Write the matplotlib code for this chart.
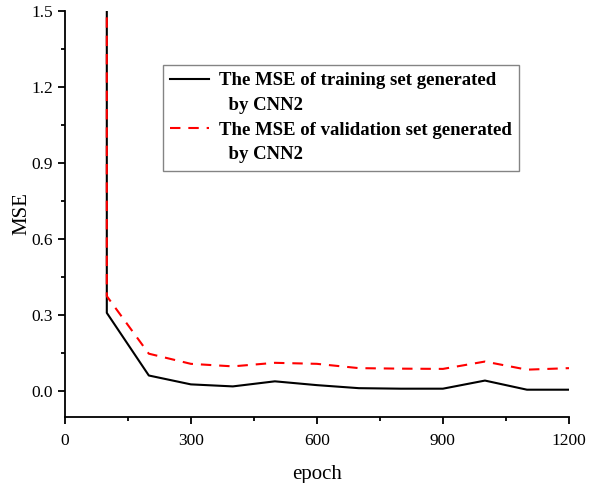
import numpy as np
from matplotlib import pyplot as plt
from matplotlib.lines import Line2D

plt.rcParams['font.family'] = ['Liberation Serif', 'DejaVu Serif']

# MSE per epoch (first point is off the top of the axis)
epoch = [100, 100, 200, 300, 400, 500, 600, 700, 800, 900, 1000, 1100, 1200]
mse_train = [2.5, 0.31, 0.063, 0.028, 0.020, 0.040, 0.025, 0.013, 0.011, 0.011, 0.043, 0.007, 0.007]
mse_valid = [2.5, 0.376, 0.149, 0.109, 0.099, 0.113, 0.109, 0.092, 0.090, 0.089, 0.118, 0.086, 0.092]

x_ticks = [0, 300, 600, 900, 1200]
y_ticks = [0.0, 0.3, 0.6, 0.9, 1.2, 1.5]

legend_lines = ['The MSE of training set generated', '  by CNN2',
                'The MSE of validation set generated', '  by CNN2']

fig = plt.figure(figsize=(5.89, 4.83), dpi=100)
ax = fig.add_axes([0.110, 0.137, 0.856, 0.840])

dash = (5, 3.8)
ax.plot(epoch, mse_train, color='black', lw=1.5)
ax.plot(epoch, mse_valid, color='red', lw=1.5, dashes=dash)

ax.set_xlim(0, 1200)
ax.set_ylim(-0.1, 1.5)
ax.set_xticks(x_ticks)
ax.set_xticks(np.arange(150, 1200, 300), minor=True)
ax.set_yticks(y_ticks)
ax.set_yticks(np.arange(0.15, 1.5, 0.3), minor=True)
ax.set_yticklabels(['%.1f' % v for v in y_ticks])

ax.spines['top'].set_visible(False)
ax.spines['right'].set_visible(False)
for s in ['left', 'bottom']:
    ax.spines[s].set_linewidth(1.3)
ax.tick_params(which='major', direction='out', length=5, width=1.3, labelsize=12.5)
ax.tick_params(axis='x', pad=7)
ax.tick_params(which='minor', direction='out', length=3, width=1.3)

ax.set_xlabel('epoch', fontsize=15, labelpad=11)
ax.set_ylabel('MSE', fontsize=15, labelpad=0)

# legend text wraps onto a second line, so each line gets its own row
handles = [Line2D([], [], color='black', lw=1.5),
           Line2D([], [], color='none'),
           Line2D([], [], color='red', lw=1.5, dashes=dash),
           Line2D([], [], color='none')]
leg = ax.legend(handles, legend_lines, loc='upper left', bbox_to_anchor=(0.194, 0.868),
                borderaxespad=0, fancybox=False, edgecolor='#666666', handlelength=2.1,
                handletextpad=0.5, borderpad=0.4, labelspacing=0.4,
                prop={'weight': 'bold', 'size': 13.5})
leg.get_frame().set_linewidth(1.0)

plt.savefig('out.png')
